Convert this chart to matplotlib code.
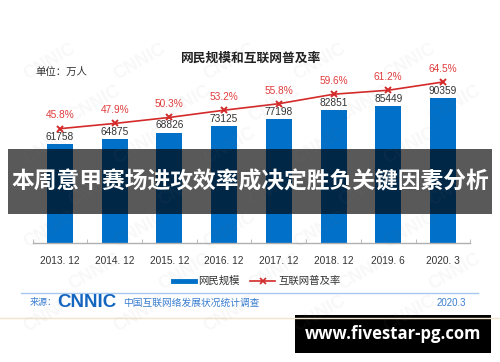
import matplotlib
matplotlib.use("Agg")
import matplotlib.pyplot as plt
from matplotlib.patches import Rectangle
from matplotlib.lines import Line2D

categories = ["2013. 12", "2014. 12", "2015. 12", "2016. 12", "2017. 12", "2018. 12", "2019. 6", "2020. 3"]
users = [61758, 64875, 68826, 73125, 77198, 82851, 85449, 90359]
rate = [45.8, 47.9, 50.3, 53.2, 55.8, 59.6, 61.2, 64.5]
title = "网民规模和互联网普及率"
unit = "单位：万人"
legend_labels = ["网民规模", "互联网普及率"]
banner = "本周意甲赛场进攻效率成决定胜负关键因素分析"
site = "www.fivestar-pg.com"

CJK = ["Noto Sans CJK SC", "DejaVu Sans"]
NUM = ["Liberation Sans", "DejaVu Sans"]
BLUE = "#0070c8"
RED = "#d42a2a"

W, H = 500, 362
fig = plt.figure(figsize=(W / 100, H / 100), dpi=100)
fig.patch.set_facecolor("white")

def fx(px):
    return px / W

def fy(py):
    return 1 - py / H

left, right, top, bottom = 32.6, 470.4, 43, 243
ax = fig.add_axes([fx(left), fy(bottom), fx(right - left), (bottom - top) / H])
ax.set_zorder(2)
ax.patch.set_alpha(0)
x = list(range(len(categories)))
ax.bar(x, users, width=0.475, color=BLUE, zorder=2)
ax.set_xlim(-0.5, len(categories) - 0.5)
ax.set_ylim(0, 124630)
ax.set_yticks([])
for s in ["top", "left", "right"]:
    ax.spines[s].set_visible(False)
ax.spines["bottom"].set_color("#b0b0b0")
ax.spines["bottom"].set_linewidth(1.0)
ax.set_xticks(x)
ax.set_xticklabels(categories, fontfamily=NUM, fontsize=7.3, color="#333333")
ax.tick_params(axis="x", which="major", length=0, pad=9)
ax.set_xticks([i - 0.5 for i in range(len(categories) + 1)], minor=True)
ax.tick_params(axis="x", which="minor", length=3, color="#b0b0b0", direction="in")
for xi, v in zip(x, users):
    ax.annotate(str(v), (xi, v), xytext=(0, 1.5), textcoords="offset points",
                ha="center", va="bottom", fontsize=7.3, color="#333333", fontfamily=NUM)

ax2 = ax.twinx()
ax2.set_ylim(0, 80.12)
ax2.set_yticks([])
for s in ax2.spines.values():
    s.set_visible(False)
ax2.plot(x, rate, color=RED, linewidth=1.2, marker="x", markersize=5, markeredgewidth=1.4, zorder=3)
for xi, v in zip(x, rate):
    ax2.annotate(f"{v}%", (xi, v), xytext=(0, 9.5), textcoords="offset points",
                 ha="center", va="center", fontsize=7.3, color="#e03c3c", fontfamily=NUM)

# overlay in pixel coordinates
ov = fig.add_axes([0, 0, 1, 1])
ov.set_zorder(5)
ov.patch.set_alpha(0)
ov.set_xlim(0, W)
ov.set_ylim(H, 0)
ov.axis("off")

# faint watermarks (kept inside the picture)
for row, yy in enumerate(range(62, 320, 42)):
    off = 0 if row % 2 == 0 else 45
    for xx in range(50 + off, 470, 90):
        ov.text(xx, yy, "CNNIC", rotation=30, fontsize=13, fontweight="bold",
                color="#808080", alpha=0.06, ha="center", va="center", fontfamily=NUM)

ov.text(250, 58, title, fontsize=9.2, fontweight="bold", color="#222222",
        ha="center", va="center", fontfamily=CJK)
ov.text(35, 72, unit, fontsize=7.5, color="#333333", ha="left", va="center", fontfamily=CJK)

# legend
ov.add_line(Line2D([173, 195], [281, 281], color=BLUE, linewidth=3.5))
ov.text(198, 281, legend_labels[0], fontsize=7.5, color="#333333", ha="left", va="center", fontfamily=CJK)
ov.add_line(Line2D([250, 275], [281, 281], color=RED, linewidth=1.2))
ov.add_line(Line2D([262.5], [281], color=RED, marker="x", markersize=4, markeredgewidth=1.2, linestyle="none"))
ov.text(278, 281, legend_labels[1], fontsize=7.5, color="#333333", ha="left", va="center", fontfamily=CJK)

# source line
ov.add_line(Line2D([21, 478], [292.5, 292.5], color="#a8c8f0", linewidth=1.0))
ov.text(30, 302.5, "来源：", fontsize=6.5, color="#3a7fd0", ha="left", va="center", fontfamily=CJK)
ov.text(57, 302.5, "CNNIC", fontsize=13.5, fontweight="bold", color="#1466c0", ha="left", va="center",
        fontfamily=NUM)
ov.text(123, 302.5, "中国互联网络发展状况统计调查", fontsize=7, color="#3a7fd0", ha="left", va="center", fontfamily=CJK)
ov.text(466, 302.5, "2020.3", fontsize=7, color="#3a7fd0", ha="right", va="center", fontfamily=NUM)
ov.add_line(Line2D([0, 500], [318, 318], color="#f3e4cf", linewidth=1.0))

# banner
ov.add_patch(Rectangle((8, 149), 484, 65, facecolor="black", alpha=0.65, edgecolor="none"))
ov.text(250, 181.5, banner, fontsize=16.4, fontweight="bold", color="white",
        ha="center", va="center", fontfamily=CJK)

# site box
ov.add_patch(Rectangle((295, 315), 196, 38, facecolor="black", edgecolor="none"))
ov.text(393, 334, site, fontsize=12, fontweight="bold", color="white",
        ha="center", va="center", fontfamily=["Open Sans", "DejaVu Sans"])

fig.savefig("out.png", dpi=100)
